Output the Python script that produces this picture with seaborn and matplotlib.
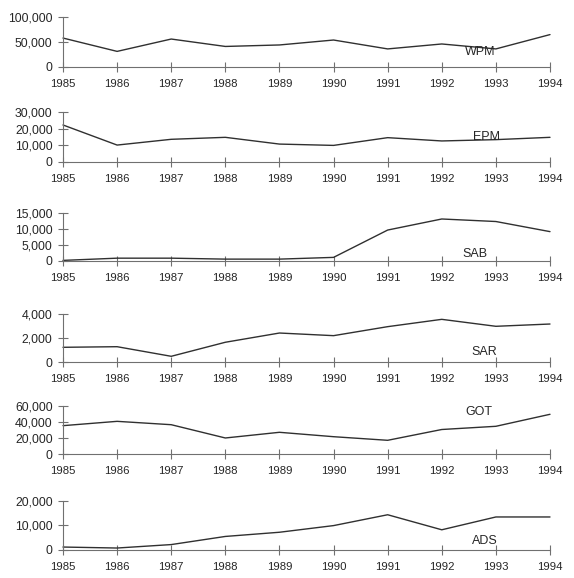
import numpy as np
import pandas as pd
import seaborn as sns
import matplotlib.pyplot as plt
from matplotlib.ticker import FuncFormatter

# data
years = [1985, 1986, 1987, 1988, 1989, 1990, 1991, 1992, 1993, 1994]
series_names = ["WPM", "EPM", "SAB", "SAR", "GOT", "ADS"]

wpm = [58000, 31000, 56000, 41000, 44000, 54000, 36000, 46000, 36000, 65000]
epm = [22300, 10100, 13600, 14800, 10700, 9900, 14600, 12600, 13400, 14800]
sab = [100, 800, 800, 500, 500, 1050, 9700, 13200, 12400, 9200]
sar = [1250, 1300, 500, 1670, 2440, 2220, 2970, 3580, 3000, 3190]
got = [35800, 41200, 37000, 20400, 27500, 22000, 17500, 31000, 35000, 50000]
ads = [1200, 800, 2200, 5500, 7200, 9900, 14300, 8200, 13400, 13400]

y_ticks = [
    [0, 50000, 100000],
    [0, 10000, 20000, 30000],
    [0, 5000, 10000, 15000],
    [0, 2000, 4000],
    [0, 20000, 40000, 60000],
    [0, 10000, 20000],
]

# label placement (axes fraction)
label_pos = [(0.856, 0.30), (0.87, 0.50), (0.845, 0.15),
             (0.865, 0.21), (0.853, 0.88), (0.866, 0.18)]

# axes placement in pixels: (top, bottom)
W, H = 574, 578
ax_left, ax_right = 63, 550
ax_rows = [(17.3, 66.7), (112.3, 161.7), (213.3, 260.7),
           (314.3, 362.3), (406.3, 454.3), (500.7, 550.0)]

df = pd.DataFrame({"year": years, "WPM": wpm, "EPM": epm, "SAB": sab,
                   "SAR": sar, "GOT": got, "ADS": ads})

sns.set_style("white")
plt.rcParams['font.family'] = ['Liberation Sans', 'DejaVu Sans']

fig = plt.figure(figsize=(W / 100, H / 100), dpi=100)
txt_col = "#262626"
line_col = "#303030"
spine_col = "#707070"

for i, name in enumerate(series_names):
    top, bot = ax_rows[i]
    ax = fig.add_axes([ax_left / W, 1 - bot / H, (ax_right - ax_left) / W, (bot - top) / H])
    sns.lineplot(data=df, x="year", y=name, ax=ax, color=line_col, linewidth=1.0)
    ax.set_xlim(years[0], years[-1])
    ax.set_ylim(0, y_ticks[i][-1])
    ax.set_xticks(years)
    ax.set_yticks(y_ticks[i])
    ax.yaxis.set_major_formatter(FuncFormatter(lambda v, p: f"{int(v):,}"))
    ax.set_xlabel("")
    ax.set_ylabel("")
    for s in ["top", "right"]:
        ax.spines[s].set_visible(False)
    for s in ["left", "bottom"]:
        ax.spines[s].set_color(spine_col)
        ax.spines[s].set_linewidth(0.8)
    ax.tick_params(axis="x", direction="inout", length=7, width=0.8, color=spine_col,
                   labelsize=8.2, labelcolor=txt_col, pad=5, bottom=True)
    ax.tick_params(axis="y", direction="inout", length=7, width=0.8, color=spine_col,
                   labelsize=8.8, labelcolor=txt_col, pad=4, left=True)
    ax.set_clip_on(False)
    for ln in ax.lines:
        ln.set_clip_on(False)
    lx, ly = label_pos[i]
    ax.text(lx, ly, name, transform=ax.transAxes, ha="center", va="center",
            fontsize=9, color=txt_col)

fig.savefig("out.png", dpi=100)
